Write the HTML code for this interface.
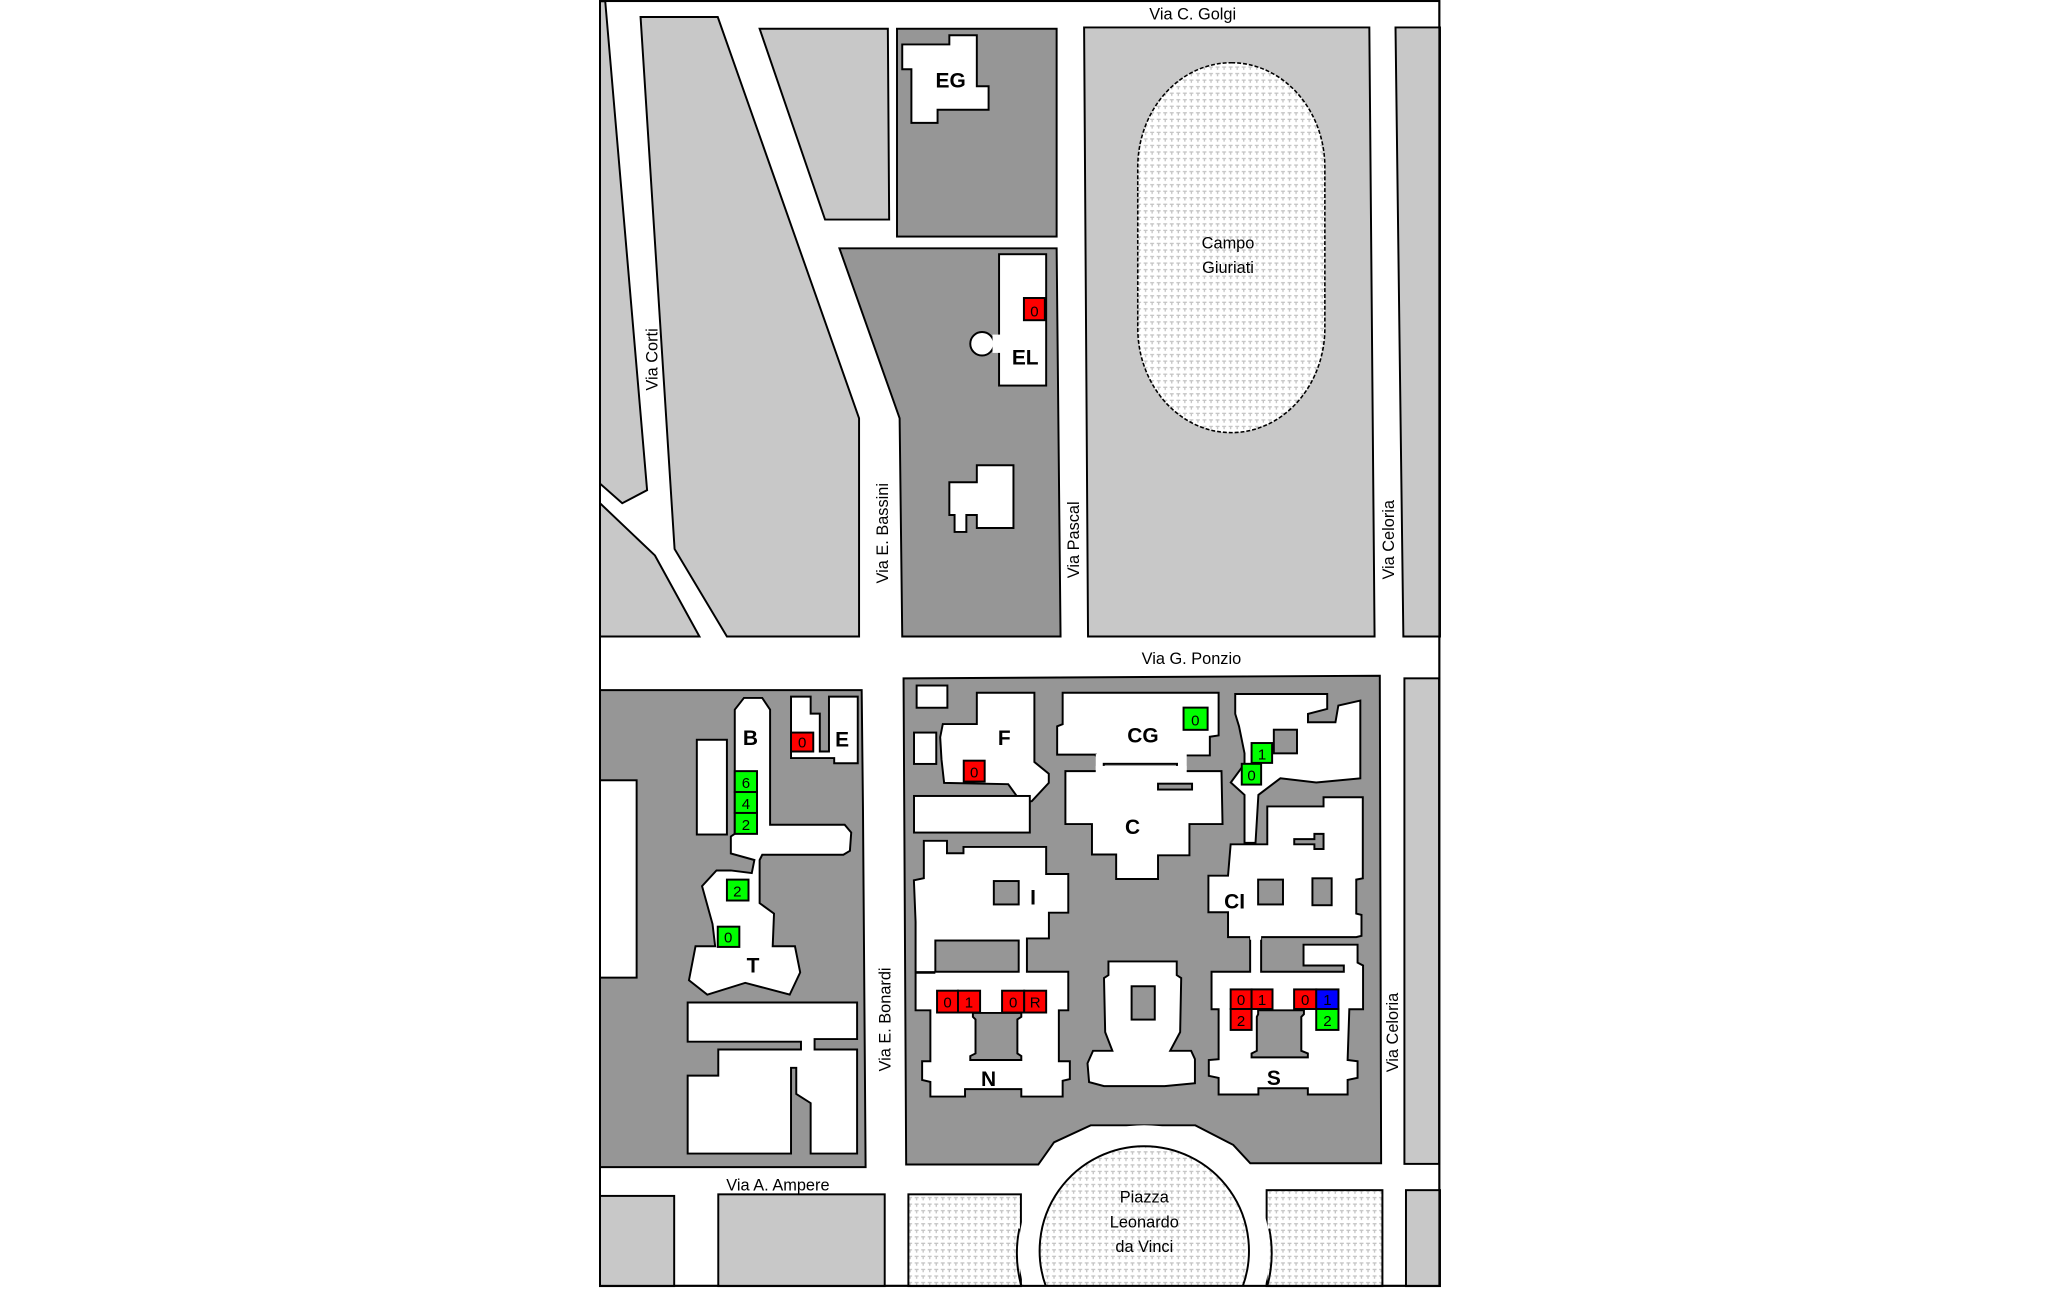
<!DOCTYPE html>
<html><head><meta charset="utf-8"><style>
html,body{margin:0;padding:0;background:#fff;width:2048px;height:1290px;overflow:hidden;}
svg{display:block;overflow:hidden;}
text{font-family:"Liberation Sans",sans-serif;}
.r{font-size:12.5px;fill:#000;}
.b{font-size:16px;font-weight:bold;fill:#000;}
.d{font-size:11.5px;fill:#000;}
</style></head><body>
<svg width="2048" height="1290" viewBox="0 0 2048 1290" xmlns="http://www.w3.org/2000/svg">
<defs>
<pattern id="p" width="5" height="5" patternUnits="userSpaceOnUse">
<rect width="5" height="5" fill="#fff"/>
<path d="M0.5 0.8h3v1h-1v1.6h-1v-1.6h-1z" fill="#c4c4c4"/>
</pattern>
</defs>
<g transform="translate(600,0) scale(1.3084,1.307) translate(-460,0)" stroke="#000" stroke-width="1.5" stroke-linejoin="miter">
<rect x="460" y="0.8" width="641.5" height="983" fill="#fff"/>
<polygon points="460,1 464,1 496,375 477,385 460,370" fill="#c8c8c8"/>
<polygon points="460,385 502,425 536,487 460,487" fill="#c8c8c8"/>
<polygon points="491,13 550,13 658,320 658,487 557,487 517,420" fill="#c8c8c8"/>
<polygon points="582,22 680,22 681,168 632,168" fill="#c8c8c8"/>
<rect x="687" y="22" width="122" height="159" fill="#969696"/>
<polygon points="727,27 748,27 748,66 757,66 757,84 718,84 718,94 698,94 698,53 691,53 691,34 727,34" fill="#fff"/>
<polygon points="643,190 809,190 812,487 691,487 689,320" fill="#969696"/>
<rect x="765" y="194.5" width="36" height="100.5" fill="#fff"/>
<circle cx="752" cy="263" r="9" fill="#fff"/>
<rect x="760" y="256" width="7" height="14" fill="#fff" stroke="none"/>
<rect x="784" y="228" width="16" height="17" fill="#f00"/>
<polygon points="748,356 776,356 776,404 748,404 748,394 740,394 740,407 731,407 731,394 727,394 727,369 748,369" fill="#fff"/>
<polygon points="830,21 1048,21 1052,487 833,487" fill="#c8c8c8"/>
<rect x="871" y="48" width="143" height="283" rx="71.5" ry="80" fill="url(#p)" stroke-dasharray="3,1.5" stroke-width="1.2"/>
<polygon points="1068,21 1102,21 1102,487 1074,487" fill="#c8c8c8"/>
<polygon points="460,528 660,528 661,620 663,893 460,893" fill="#969696"/>
<rect x="460" y="597" width="28" height="151" fill="#fff"/>
<rect x="534" y="566" width="23" height="72.5" fill="#fff"/>
<polygon points="563,543 570,534 584,534 590,543 590,631 647,631 652,637 651,651 646,654 584,654 582,658 582,691 593,699 592,724 609,724 613,744 605,761 571,752 542,761 528,750 533,724 548,724 546,707 538,678 549,666 560,666 576,668 578,658 560,653 560,640 563,638" fill="#fff"/>
<polygon points="606,533 621,533 621,546 628,546 628,575 635,575 635,533 657,533 657,584 639,584 639,580 606,580" fill="#fff"/>
<rect x="606" y="560.5" width="17" height="14.5" fill="#f00"/>
<rect x="563" y="590" width="17" height="16" fill="#0f0"/>
<rect x="563" y="606" width="17" height="16" fill="#0f0"/>
<rect x="563" y="622" width="17" height="16" fill="#0f0"/>
<rect x="557" y="673" width="16.5" height="16" fill="#0f0"/>
<rect x="550" y="709" width="16.5" height="15.5" fill="#0f0"/>
<polygon points="527,767 656.5,767 656.5,795 624,795 624,803 656.5,803 656.5,882.6 621,882.6 621,844 610,837 610,817 606,817 606,882.6 527,882.6 527,823 550.4,823 550.4,803 613.6,803 613.6,797 527,797" fill="#fff"/>
<polygon points="692,519 1056,517 1057,890 957,890 944,876 915,861 835,861 807,874 795,891 694,891" fill="#969696"/>
<rect x="702" y="524.5" width="23.5" height="17" fill="#fff"/>
<rect x="700" y="560.5" width="17" height="24" fill="#fff"/>
<polygon points="748,530 792,530 792,583 803,592 803,599 790,613 782,614 772,600 723,599 721,581 720,564 722,554 748,554" fill="#fff"/>
<rect x="738" y="582" width="16" height="16" fill="#f00"/>
<rect x="700" y="609" width="88.5" height="28" fill="#fff"/>
<polygon points="813.6,530 932.8,530 932.8,562.7 926.1,563.7 926.1,578 838.9,578 838.9,577.4 809.4,577.4 809.4,555.7 813.6,554.1" fill="#fff"/>
<rect x="838.9" y="577" width="69.5" height="14" fill="#fff" stroke="none"/>
<rect x="845" y="584.4" width="56" height="4.8" fill="#969696"/>
<polygon points="815.7,590 935,590 935.8,630.5 910.5,630.5 910.5,654.4 886.5,654.4 886.5,672.5 854.5,672.5 854.5,653.8 836,653.8 836,630.5 815.7,630.5" fill="#fff"/>
<rect x="838.9" y="586" width="69.5" height="6" fill="#fff" stroke="none"/>
<rect x="886.5" y="599.6" width="26" height="4.5" fill="#969696"/>
<rect x="906" y="541.4" width="18.4" height="17" fill="#0f0"/>
<polygon points="945.5,531 1015.8,531 1015.8,542.4 1001.1,546.2 1001.1,552.6 1022.1,552.6 1024.3,539.8 1041.1,536 1041.1,595.5 1007.4,598.7 980,595.5 963.2,608.2 961,644.9 952.6,644.9 952.6,608.2 942.1,598.7 952.6,584.4 952.6,576.4 948.4,555.7 945.5,546.2" fill="#fff"/>
<rect x="975" y="558.3" width="17.7" height="18.1" fill="#969696"/>
<rect x="958" y="568.5" width="15.7" height="15.2" fill="#0f0"/>
<rect x="950.5" y="584.4" width="14.8" height="15.9" fill="#0f0"/>
<polygon points="942,646 970,646 970,617 1013,617 1013,610 1043,610 1043,672 1038,673 1038,699 1042,700 1042,716 1038,717 940,717 940,698 925,698 925,670 940,670" fill="#fff"/>
<rect x="963" y="673" width="19" height="19" fill="#969696"/>
<rect x="1004.5" y="672" width="14.7" height="20.6" fill="#969696"/>
<polygon points="990.6,642 1006,642 1006,638 1013,638 1013,649.6 1006,649.6 1006,646 990.6,646" fill="#969696"/>
<polygon points="927.4,743.5 956.9,743.5 956.9,717.4 965.3,717.4 965.3,743.5 1028.5,743.5 1028.5,738.7 997.7,738.7 997.7,722.8 1039,722.8 1039,736.5 1043.2,738.7 1043.2,772.2 1032.7,772.2 1031.4,811 1039,812 1039,824.7 1031.4,826.3 1031.4,837.4 1001,837.4 1001,832.6 963.2,832.6 963.2,837.4 932.8,837.4 932.8,824.7 925.3,823.1 925.3,811 932.8,810.4 932.8,772.2 927.4,772.2" fill="#fff"/>
<rect x="956.9" y="716" width="8.4" height="3" fill="#fff" stroke="none"/>
<polygon points="963,773 998,773 998,776 996,778 996,804 1001,806 1001,809 958,809 958,806 962,804 962,778 963,776" fill="#969696"/>
<rect x="942" y="757" width="16" height="15" fill="#f00"/>
<rect x="958" y="757" width="16" height="15" fill="#f00"/>
<rect x="990.5" y="757" width="17" height="15" fill="#f00"/>
<rect x="1007.4" y="757" width="17" height="15" fill="#00f"/>
<rect x="942" y="772" width="16" height="16" fill="#f00"/>
<rect x="1007.4" y="772" width="17" height="16" fill="#0f0"/>
<polygon points="707.5,643.3 725.2,643.3 725.2,652.8 737.8,652.8 737.8,648 801,648 801,668.7 817.9,668.7 817.9,698.3 803.1,698.3 803.1,718 786.3,718 786.3,743.5 817.9,743.5 817.9,773 810.7,773 810.7,812 819.1,812 819.1,825.6 813.6,826.9 813.6,839 782,839 782,833.3 739,833.3 739,839 712.5,839 712.5,827.8 706.2,826.3 706.2,812 712.5,812 712.5,773 701.2,773 701.2,705.3 699.9,673.5 707.5,671.9" fill="#fff"/>
<rect x="716.3" y="719.6" width="63.7" height="23.9" fill="#969696"/>
<line x1="701.2" y1="744" x2="716.3" y2="744" stroke-width="2"/>
<rect x="761" y="674.1" width="19" height="17.9" fill="#969696"/>
<polygon points="747.5,775 782,775 782,778 779,780 779,806 782,808 782,811 743,811 743,808 747,806 747,780 745,778 745,775" fill="#969696"/>
<rect x="717.6" y="758" width="16" height="16.7" fill="#f00"/>
<rect x="733.6" y="758" width="16.9" height="16.7" fill="#f00"/>
<rect x="767.3" y="758" width="16.9" height="16.7" fill="#f00"/>
<rect x="784.2" y="758" width="16.8" height="16.7" fill="#f00"/>
<polygon points="848.6,735.6 900.8,735.6 900.8,746.1 904.2,748.3 903.4,789.7 895.8,804 911.8,804 914.7,810.3 914.7,828.8 891.6,831 845.2,831 833.8,827.9 832.6,813.5 836.8,804 851.6,804 846.1,789.7 845.2,748.3 848.6,746.1" fill="#fff"/>
<rect x="866.3" y="754.6" width="17.7" height="25.5" fill="#969696"/>
<rect x="1074.8" y="519" width="26.5" height="371.5" fill="#c8c8c8"/>
<rect x="460" y="915" width="56.7" height="69" fill="#c8c8c8"/>
<rect x="550.4" y="913.8" width="127.2" height="70.2" fill="#c8c8c8"/>
<rect x="695.7" y="913.8" width="86" height="70.2" fill="url(#p)"/>
<rect x="969.5" y="910.6" width="88.5" height="73.4" fill="url(#p)"/>
<rect x="1076" y="910.6" width="26" height="73.4" fill="#c8c8c8"/>
<path d="M783.9 984 A96 96 0 1 1 968.1 984 Z" fill="#fff" stroke="none"/>
<path d="M782 984 A96 96 0 0 1 780.5 940" fill="none"/>
<path d="M970 984 A96 96 0 0 0 971.5 940" fill="none"/>
<path d="M800.7 984 A80 80 0 1 1 951.3 984" fill="url(#p)"/>
<rect x="460" y="0.8" width="641.5" height="983" fill="none"/>
</g>
<g transform="translate(600,0) scale(1.3084,1.307) translate(-460,0)">
<text class="r" x="913" y="15" text-anchor="middle">Via C. Golgi</text>
<text class="r" x="912" y="508" text-anchor="middle">Via G. Ponzio</text>
<text class="r" x="596" y="911" text-anchor="middle">Via A. Ampere</text>
<text class="r" transform="translate(504,275) rotate(-90)" text-anchor="middle">Via Corti</text>
<text class="r" transform="translate(680,408) rotate(-90)" text-anchor="middle">Via E. Bassini</text>
<text class="r" transform="translate(826,413) rotate(-90)" text-anchor="middle">Via Pascal</text>
<text class="r" transform="translate(1067,413) rotate(-90)" text-anchor="middle">Via Celoria</text>
<text class="r" transform="translate(682,780) rotate(-90)" text-anchor="middle">Via E. Bonardi</text>
<text class="r" transform="translate(1070,790) rotate(-90)" text-anchor="middle">Via Celoria</text>
<text class="r" x="940" y="190" text-anchor="middle">Campo</text>
<text class="r" x="940" y="209" text-anchor="middle">Giuriati</text>
<text class="r" x="876" y="920" text-anchor="middle">Piazza</text>
<text class="r" x="876" y="939" text-anchor="middle">Leonardo</text>
<text class="r" x="876" y="958" text-anchor="middle">da Vinci</text>
<text class="b" x="728" y="67" text-anchor="middle">EG</text>
<text class="b" x="785" y="279" text-anchor="middle">EL</text>
<text class="b" x="575" y="570" text-anchor="middle">B</text>
<text class="b" x="645" y="571" text-anchor="middle">E</text>
<text class="b" x="577" y="744" text-anchor="middle">T</text>
<text class="b" x="769" y="570" text-anchor="middle">F</text>
<text class="b" x="875" y="568" text-anchor="middle">CG</text>
<text class="b" x="867" y="638" text-anchor="middle">C</text>
<text class="b" x="791" y="692" text-anchor="middle">I</text>
<text class="b" x="945" y="695" text-anchor="middle">CI</text>
<text class="b" x="757" y="831" text-anchor="middle">N</text>
<text class="b" x="975" y="830" text-anchor="middle">S</text>
<g class="d" text-anchor="middle">
<text x="792" y="242">0</text>
<text x="614.5" y="572">0</text>
<text x="571.5" y="603">6</text>
<text x="571.5" y="619">4</text>
<text x="571.5" y="635">2</text>
<text x="565" y="686">2</text>
<text x="558" y="721">0</text>
<text x="746" y="595">0</text>
<text x="915" y="555">0</text>
<text x="966" y="581">1</text>
<text x="958" y="597">0</text>
<text x="725.6" y="771">0</text>
<text x="742" y="771">1</text>
<text x="775.8" y="771">0</text>
<text x="792.6" y="771">R</text>
<text x="950" y="769">0</text>
<text x="966" y="769">1</text>
<text x="999" y="769">0</text>
<text x="1016" y="769">1</text>
<text x="950" y="785">2</text>
<text x="1016" y="785">2</text>
</g>
</g>
</svg>
</body></html>
